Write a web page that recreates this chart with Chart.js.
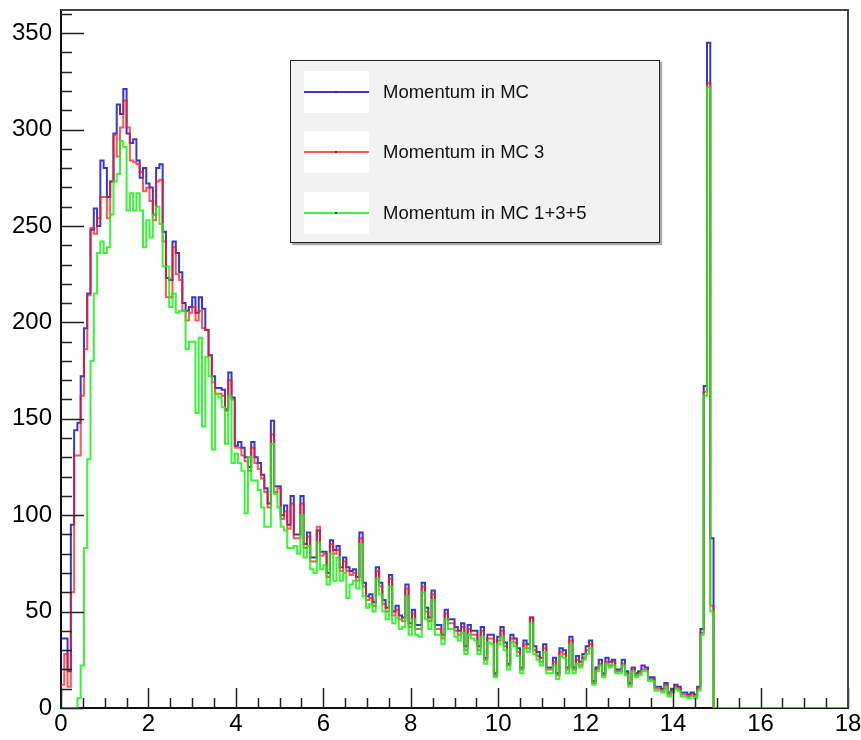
<!DOCTYPE html>
<html>
<head>
<meta charset="utf-8">
<script src="https://cdn.jsdelivr.net/npm/chart.js@4.4.1/dist/chart.umd.min.js"></script>
<style>
  html, body { margin: 0; padding: 0; background: #fff; }
  #wrap { position: relative; width: 861px; height: 740px; }
  #legend {
    position: absolute; left: 290px; top: 60px; width: 370px; height: 183px;
    box-sizing: border-box; background: #f2f2f2; border: 1px solid #222;
    box-shadow: 2px 2px 1px #aaa; font-family: 'Liberation Sans', Arial, sans-serif;
  }
  .sample { position: absolute; left: 13px; width: 65px; height: 42px; background: #fff; }
  .sample .ln { position: absolute; left: 0; right: 0; top: 20px; height: 2px; }
  .sample .dot { position: absolute; left: 31px; top: 20px; width: 2px; height: 2px; background: #333; }
  .lbl { position: absolute; left: 92px; height: 42px; line-height: 42px; font-size: 18.5px; color: #111; white-space: nowrap; }
</style>
</head>
<body>
<div id="wrap">
  <canvas id="histCanvas" width="861" height="740"></canvas>
  <div id="legend"></div>
</div>
<script>
const binWidth = 0.075;
const xMax = 18;
const xTickLabels = [0, 2, 4, 6, 8, 10, 12, 14, 16, 18];
const yTickLabels = [0, 50, 100, 150, 200, 250, 300, 350];
const seriesLabels = ["Momentum in MC", "Momentum in MC 3", "Momentum in MC 1+3+5"];

// bin contents, 200 bins of 0.075 from 0 to 15
const momentumMC = [
  21, 36, 36, 19, 95, 144, 148, 172, 197, 215, 248, 259, 250, 284, 280, 265, 273, 298, 313, 308,
  321, 298, 293, 295, 284, 275, 280, 272, 270, 256, 280, 282, 247, 223, 222, 242, 236, 226, 210, 206,
  208, 213, 205, 213, 207, 196, 183, 172, 166, 166, 165, 155, 174, 161, 136, 138, 135, 130, 125, 138,
  130, 127, 121, 114, 106, 149, 115, 115, 100, 105, 95, 110, 90, 90, 110, 85, 91, 78, 78, 92,
  81, 81, 70, 87, 82, 84, 73, 78, 73, 71, 72, 68, 91, 65, 58, 59, 55, 73, 65, 56,
  52, 69, 50, 53, 48, 47, 64, 44, 51, 43, 43, 65, 52, 47, 61, 43, 43, 38, 51, 46,
  46, 42, 40, 44, 32, 43, 40, 40, 32, 42, 26, 38, 38, 18, 37, 42, 34, 23, 38, 36,
  31, 21, 35, 33, 47, 32, 29, 26, 33, 21, 21, 26, 18, 31, 30, 21, 37, 21, 27, 24,
  28, 32, 35, 14, 21, 25, 18, 26, 24, 25, 20, 20, 25, 19, 13, 21, 18, 19, 22, 21,
  16, 16, 11, 11, 10, 13, 8, 10, 12, 11, 8, 8, 7, 8, 7, 11, 41, 167, 345, 88
];
const momentumMC3 = [
  0, 12, 28, 11, 60, 131, 131, 162, 186, 214, 249, 246, 254, 265, 265, 254, 273, 297, 286, 301,
  315, 301, 284, 283, 282, 278, 268, 270, 263, 253, 273, 274, 242, 213, 213, 239, 225, 222, 206, 201,
  205, 208, 201, 206, 197, 196, 183, 169, 163, 163, 162, 154, 170, 160, 135, 135, 131, 128, 123, 135,
  127, 124, 119, 112, 104, 142, 112, 114, 98, 102, 93, 106, 88, 88, 106, 83, 89, 76, 76, 94,
  79, 80, 68, 85, 80, 82, 71, 76, 71, 69, 70, 66, 88, 63, 56, 57, 53, 71, 63, 54,
  50, 67, 48, 51, 46, 45, 62, 42, 49, 41, 41, 63, 50, 45, 59, 41, 41, 36, 49, 44,
  44, 40, 38, 42, 30, 41, 38, 38, 30, 40, 25, 36, 36, 17, 35, 40, 32, 22, 36, 34,
  29, 20, 33, 31, 47, 30, 27, 24, 31, 20, 20, 24, 17, 29, 28, 20, 35, 20, 25, 22,
  26, 30, 33, 13, 20, 23, 17, 24, 22, 24, 19, 19, 23, 18, 12, 20, 17, 18, 20, 20,
  15, 15, 10, 10, 9, 12, 7, 9, 11, 10, 7, 7, 6, 7, 6, 10, 39, 164, 324, 53
];
const momentumMC135 = [
  0, 0, 0, 0, 0, 0, 5, 22, 83, 129, 180, 215, 236, 242, 236, 239, 256, 273, 277, 294,
  291, 258, 267, 258, 267, 258, 239, 253, 244, 256, 260, 251, 229, 229, 208, 215, 205, 206, 206, 186,
  190, 190, 153, 192, 146, 182, 172, 134, 163, 161, 156, 137, 162, 127, 132, 127, 123, 101, 130, 118,
  118, 113, 104, 94, 94, 137, 111, 104, 94, 92, 83, 83, 84, 80, 100, 78, 84, 72, 70, 86,
  72, 74, 64, 80, 66, 78, 66, 70, 57, 64, 66, 62, 85, 58, 52, 54, 50, 67, 59, 50,
  46, 63, 44, 47, 41, 42, 58, 38, 46, 38, 37, 60, 46, 41, 56, 38, 38, 33, 46, 41,
  41, 37, 35, 39, 28, 38, 36, 35, 28, 37, 23, 34, 33, 16, 33, 37, 30, 20, 34, 32,
  27, 18, 31, 29, 44, 28, 25, 22, 29, 18, 18, 22, 15, 27, 26, 18, 33, 18, 23, 21,
  25, 28, 31, 12, 19, 22, 16, 23, 21, 22, 18, 18, 22, 17, 11, 19, 16, 17, 19, 19,
  14, 14, 9, 9, 8, 11, 6, 8, 10, 9, 6, 6, 5, 6, 5, 9, 38, 162, 322, 50
];

// turn bin contents into step points (low edge of each bin), then flat zero up to 18
function toSteps(vals) {
  const pts = vals.map((v, i) => ({ x: +(i * binWidth).toFixed(3), y: v }));
  pts.push({ x: +(vals.length * binWidth).toFixed(3), y: 0 });
  pts.push({ x: xMax, y: 0 });
  return pts;
}

const lineColors = ["rgba(0,0,190,0.78)", "rgba(255,20,20,0.72)", "rgba(20,245,20,0.85)"];

Chart.defaults.font.family = "'Liberation Sans', Arial, sans-serif";
Chart.defaults.color = "#000";

// ROOT style: ticks on the inside of the frame, plus top/right frame lines
const frameTicks = {
    id: "frameTicks",
    afterDatasetsDraw(chart) {
        const { ctx, chartArea: a, scales: { x, y } } = chart;
        ctx.save();
        ctx.strokeStyle = "#222";
        ctx.lineWidth = 1.5;
        ctx.beginPath();
        for (let k = 0; k <= 36; k++) {
            const px = Math.round(x.getPixelForValue(k * 0.5)) + 0.5;
            const len = k % 4 === 0 ? 20 : 10;
            ctx.moveTo(px, a.bottom);
            ctx.lineTo(px, a.bottom - len);
        }
        for (let v = 0; v <= 360; v += 10) {
            const py = Math.round(y.getPixelForValue(v)) + 0.5;
            const len = v % 50 === 0 ? 23 : 11;
            ctx.moveTo(a.left, py);
            ctx.lineTo(a.left + len, py);
        }
        ctx.stroke();
        ctx.strokeStyle = "#444";
        ctx.lineWidth = 2;
        ctx.beginPath();
        ctx.moveTo(a.left, a.top);
        ctx.lineTo(a.right, a.top);
        ctx.lineTo(a.right, a.bottom);
        ctx.stroke();
        ctx.restore();
    }
};

const histPlot = new Chart(document.getElementById("histCanvas").getContext("2d"), {
    type: "line",
    data: {
        datasets: [momentumMC, momentumMC3, momentumMC135].map((vals, i) => ({
            label: seriesLabels[i],
            data: toSteps(vals),
            borderColor: lineColors[i],
            borderWidth: 2,
            stepped: "after",
            fill: false,
            pointRadius: 0,
            order: 2 - i // green on top, blue at the bottom
        }))
    },
    options: {
        responsive: false,
        animation: false,
        events: [],
        layout: { padding: { top: 10, right: 13, left: 0, bottom: 0 } },
        plugins: { legend: { display: false }, tooltip: { enabled: false } },
        scales: {
            x: {
                type: "linear",
                min: 0,
                max: xMax,
                afterFit: (s) => { s.height = 32; s.paddingLeft = 0; s.paddingRight = 0; },
                afterBuildTicks: (s) => { s.ticks = xTickLabels.map(v => ({ value: v })); },
                grid: { display: false, drawTicks: false },
                border: { color: "#111", width: 2 },
                ticks: { font: { size: 24 }, padding: 2, maxRotation: 0, autoSkip: false }
            },
            y: {
                min: 0,
                max: 362,
                afterFit: (s) => { s.width = 61; s.paddingTop = 0; s.paddingBottom = 0; },
                afterBuildTicks: (s) => { s.ticks = yTickLabels.map(v => ({ value: v })); },
                grid: { display: false, drawTicks: false },
                border: { color: "#111", width: 2 },
                ticks: { font: { size: 24 }, padding: 9, autoSkip: false }
            }
        }
    },
    plugins: [frameTicks]
});

// legend box drawn as HTML, labels taken from the chart datasets
const legendBox = document.getElementById("legend");
const rowTops = [10, 70, 131];
histPlot.data.datasets.forEach((ds, i) => {
    const sample = document.createElement("div");
    sample.className = "sample";
    sample.style.top = rowTops[i] + "px";
    sample.innerHTML = '<div class="ln" style="background:' + ds.borderColor + '"></div><div class="dot"></div>';
    legendBox.appendChild(sample);
    const lbl = document.createElement("div");
    lbl.className = "lbl";
    lbl.style.top = rowTops[i] + "px";
    lbl.textContent = ds.label;
    legendBox.appendChild(lbl);
});
</script>
</body>
</html>
